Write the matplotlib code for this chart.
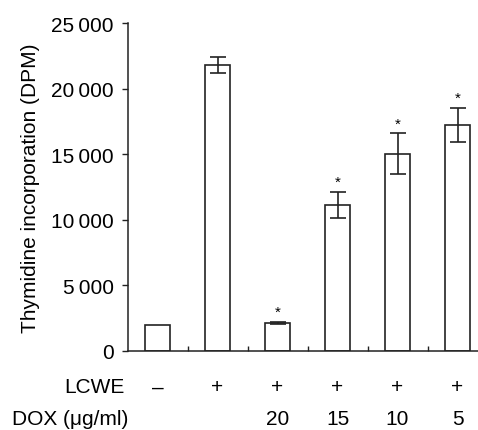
import matplotlib
matplotlib.use("Agg")
import matplotlib.pyplot as plt
import numpy as np

plt.rcParams['font.family'] = ['Liberation Sans', 'DejaVu Sans']

lcwe = ['–', '+', '+', '+', '+', '+']
dox = ['', '', '20', '15', '10', '5']
values = [1950, 21800, 2150, 11150, 15050, 17250]
errors = [0, 580, 60, 1000, 1550, 1300]
significant = [False, False, True, True, True, True]
yticks = [0, 5000, 10000, 15000, 20000, 25000]
ytick_labels = ['0', '5\u2009000', '10\u2009000', '15\u2009000', '20\u2009000', '25\u2009000']

W, H = 478, 431
fig = plt.figure(figsize=(W / 100, H / 100), dpi=100)
left_px, right_px, top_px, bot_px = 127.5, 478, 24, 352
ax = fig.add_axes([left_px / W, (H - bot_px) / H, (right_px - left_px) / W, (bot_px - top_px) / H])

x = np.arange(len(values))
ax.bar(x, values, width=0.43, color='white', edgecolor='#222222', linewidth=1.2, zorder=2)
for xi, v, e in zip(x, values, errors):
    if e > 0:
        ax.errorbar(xi, v, yerr=e, fmt='none', ecolor='#222222', elinewidth=1.2,
                    capsize=5.8, capthick=1.2, zorder=3)
for xi, v, e, s in zip(x, values, errors, significant):
    if s:
        ax.annotate('*', (xi, v + e), xytext=(0, 2), textcoords='offset points',
                    ha='center', va='bottom', fontsize=11)

ax.set_xlim(-0.5, -0.5 + (right_px - left_px) / 60)
ax.set_ylim(0, 25000)
ax.set_yticks(yticks)
ax.set_yticklabels(ytick_labels, fontsize=15)
ax.set_xticks([])
ax.set_xticks(x[:-1] + 0.5, minor=True)
ax.tick_params(axis='x', which='minor', direction='in', length=3.6, width=1.0, color='#222222')
ax.tick_params(axis='y', direction='out', length=4, width=1.0, pad=6, color='#222222')
for s in ['top', 'right']:
    ax.spines[s].set_visible(False)
for s in ['left', 'bottom']:
    ax.spines[s].set_linewidth(1.1)
    ax.spines[s].set_color('#222222')

ax.set_ylabel('Thymidine incorporation (DPM)', fontsize=15, labelpad=8)

trans = ax.get_xaxis_transform()
y1 = -(388 - bot_px) / (bot_px - top_px)
y2 = -(420 - bot_px) / (bot_px - top_px)
ax.text(-0.54, y1, 'LCWE', transform=trans, ha='right', va='center', fontsize=15)
ax.text(-0.49, y2, 'DOX (μg/ml)', transform=trans, ha='right', va='center', fontsize=15)
for xi, a, b in zip(x, lcwe, dox):
    ax.text(xi, y1, a, transform=trans, ha='center', va='center', fontsize=15)
    if b:
        ax.text(xi, y2, b, transform=trans, ha='center', va='center', fontsize=15)

fig.savefig('out.png', dpi=100)
